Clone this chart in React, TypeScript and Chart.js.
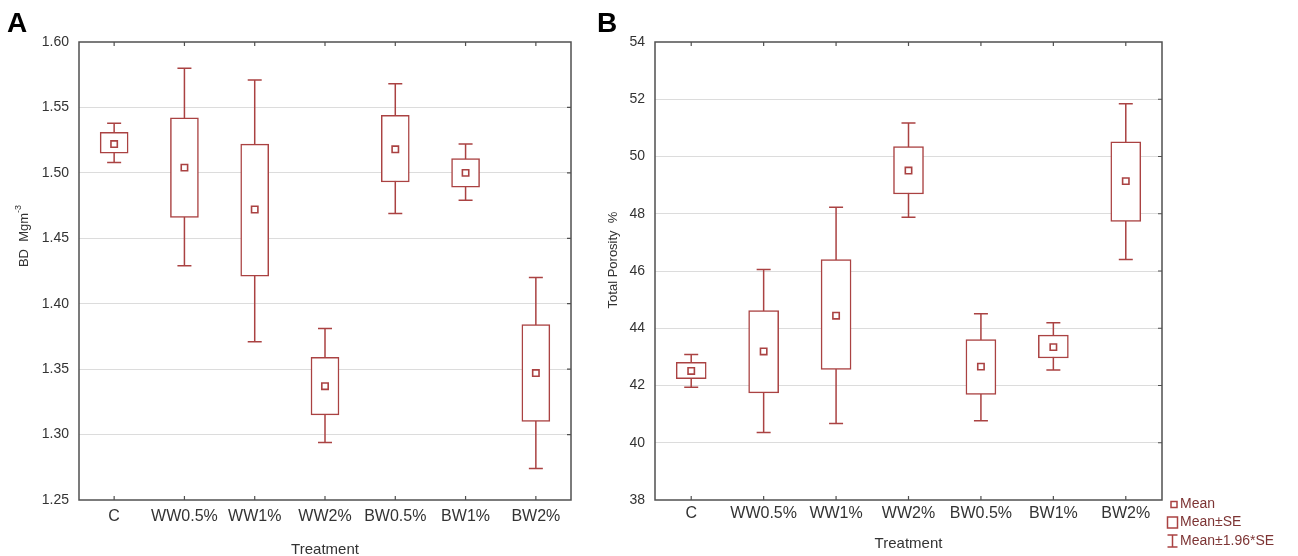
import React, { useEffect, useRef } from 'react';
import { Chart, registerables } from 'chart.js';

Chart.register(...registerables);

// ---------- data ----------
const categories = ['C', 'WW0.5%', 'WW1%', 'WW2%', 'BW0.5%', 'BW1%', 'BW2%'];

// Panel A: bulk density (BD, Mg m-3)
const bdMean = [1.522, 1.504, 1.472, 1.337, 1.518, 1.5, 1.347];
const bdSeLow = [1.515, 1.466, 1.421, 1.315, 1.493, 1.489, 1.31];
const bdSeHigh = [1.531, 1.542, 1.522, 1.359, 1.544, 1.511, 1.384];
const bdCiLow = [1.508, 1.429, 1.371, 1.294, 1.469, 1.479, 1.274];
const bdCiHigh = [1.538, 1.58, 1.571, 1.381, 1.568, 1.522, 1.42];

// Panel B: total porosity (%)
const tpMean = [42.51, 43.19, 44.44, 49.51, 42.66, 43.34, 49.14];
const tpSeLow = [42.24, 41.74, 42.56, 48.69, 41.69, 42.96, 47.73];
const tpSeHigh = [42.81, 44.62, 46.4, 50.35, 43.6, 43.76, 50.51];
const tpCiLow = [41.94, 40.36, 40.67, 47.88, 40.77, 42.54, 46.4];
const tpCiHigh = [43.08, 46.05, 48.23, 51.17, 44.51, 44.19, 51.84];

const legendLabels = ['Mean', 'Mean±SE', 'Mean±1.96*SE'];

const RED = '#aa4242';
const FRAME = '#505050';
const GRID = '#dcdcdc';
const TEXT = '#333333';
const FONT = '"Liberation Sans", Arial, sans-serif';

type PanelOpts = {
  letter: string;
  yTitle: string;
  ySup?: string;
  yTitleX: number;
  yTitleY: number;
  xTitleBaseline: number;
  ciLow: number[];
  ciHigh: number[];
  legend: boolean;
};

function makePlugin(o: PanelOpts) {
  return {
    id: 'panelDeco' + o.letter,
    beforeDatasetsDraw(chart: any) {
      const { ctx } = chart;
      const xs = chart.scales.x;
      const ys = chart.scales.y;
      ctx.save();
      ctx.strokeStyle = RED;
      ctx.lineWidth = 1.5;
      categories.forEach((_, i) => {
        const x = xs.getPixelForValue(i);
        const y1 = ys.getPixelForValue(o.ciLow[i]);
        const y2 = ys.getPixelForValue(o.ciHigh[i]);
        ctx.beginPath();
        ctx.moveTo(x, y1);
        ctx.lineTo(x, y2);
        ctx.moveTo(x - 7, y1);
        ctx.lineTo(x + 7, y1);
        ctx.moveTo(x - 7, y2);
        ctx.lineTo(x + 7, y2);
        ctx.stroke();
      });
      ctx.restore();
    },
    afterDraw(chart: any) {
      const { ctx, chartArea } = chart;
      const { left, right, top, bottom } = chartArea;
      const xs = chart.scales.x;
      const ys = chart.scales.y;
      ctx.save();
      // frame
      ctx.strokeStyle = FRAME;
      ctx.lineWidth = 1.5;
      ctx.strokeRect(left, top, right - left, bottom - top);
      ctx.lineWidth = 1.2;
      ctx.beginPath();
      categories.forEach((_, i) => {
        const x = xs.getPixelForValue(i);
        ctx.moveTo(x, top);
        ctx.lineTo(x, top + 4);
        ctx.moveTo(x, bottom);
        ctx.lineTo(x, bottom - 4);
      });
      ys.ticks.forEach((t: any) => {
        if (t.value === ys.min || t.value === ys.max) return;
        const y = ys.getPixelForValue(t.value);
        ctx.moveTo(right, y);
        ctx.lineTo(right - 4, y);
      });
      ctx.stroke();

      // panel letter
      ctx.fillStyle = '#000';
      ctx.font = 'bold 28px ' + FONT;
      ctx.textAlign = 'left';
      ctx.textBaseline = 'alphabetic';
      ctx.fillText(o.letter, 7, 32);

      // x title
      ctx.fillStyle = TEXT;
      ctx.font = '15px ' + FONT;
      ctx.textAlign = 'center';
      ctx.fillText('Treatment', (left + right) / 2, o.xTitleBaseline);

      // y title (rotated)
      ctx.save();
      ctx.translate(o.yTitleX, o.yTitleY);
      ctx.rotate(-Math.PI / 2);
      ctx.font = '13px ' + FONT;
      const mainW = ctx.measureText(o.yTitle).width;
      let supW = 0;
      if (o.ySup) {
        ctx.font = '9px ' + FONT;
        supW = ctx.measureText(o.ySup).width;
      }
      const total = mainW + supW;
      ctx.font = '13px ' + FONT;
      ctx.textAlign = 'left';
      ctx.textBaseline = 'middle';
      ctx.fillText(o.yTitle, -total / 2, 0);
      if (o.ySup) {
        ctx.font = '9px ' + FONT;
        ctx.fillText(o.ySup, -total / 2 + mainW, -5);
      }
      ctx.restore();

      // legend
      if (o.legend) {
        const ox = 1180 - 590;
        ctx.strokeStyle = RED;
        ctx.fillStyle = '#fff';
        ctx.lineWidth = 1.5;
        // mean marker
        ctx.fillRect(ox - 9, 501.5, 6, 6);
        ctx.strokeRect(ox - 9, 501.5, 6, 6);
        // box
        ctx.strokeRect(ox - 12.5, 517, 10, 11);
        // whisker
        ctx.beginPath();
        ctx.moveTo(ox - 7.5, 535);
        ctx.lineTo(ox - 7.5, 547);
        ctx.moveTo(ox - 12.5, 535);
        ctx.lineTo(ox - 2.5, 535);
        ctx.moveTo(ox - 12.5, 547);
        ctx.lineTo(ox - 2.5, 547);
        ctx.stroke();
        ctx.fillStyle = '#7d3434';
        ctx.font = '14px ' + FONT;
        ctx.textAlign = 'left';
        ctx.textBaseline = 'middle';
        ctx.fillText(legendLabels[0], ox, 504.5);
        ctx.fillText(legendLabels[1], ox, 522.5);
        ctx.fillText(legendLabels[2], ox, 541);
      }
      ctx.restore();
    },
  };
}

type PanelProps = {
  mean: number[];
  seLow: number[];
  seHigh: number[];
  ciLow: number[];
  ciHigh: number[];
  yMin: number;
  yMax: number;
  yStep: number;
  decimals: number;
  yAxisWidth: number;
  rightPad: number;
  barWidth: number;
  xTickPad: number;
  opts: PanelOpts;
};

function Panel(p: PanelProps) {
  const ref = useRef<HTMLCanvasElement | null>(null);
  useEffect(() => {
    if (!ref.current) return;
    const chart = new Chart(ref.current, {
      type: 'bar',
      data: {
        labels: categories,
        datasets: [
          {
            type: 'line',
            data: p.mean,
            showLine: false,
            pointStyle: 'rect',
            pointRadius: 4.5,
            pointBorderWidth: 1.6,
            pointBackgroundColor: '#ffffff',
            pointBorderColor: RED,
            order: 1,
          } as any,
          {
            type: 'bar',
            data: categories.map((_, i) => [p.seLow[i], p.seHigh[i]]),
            backgroundColor: '#ffffff',
            borderColor: RED,
            borderWidth: 1.5,
            borderSkipped: false,
            barThickness: p.barWidth,
            order: 2,
          } as any,
        ],
      },
      options: {
        animation: false,
        responsive: true,
        maintainAspectRatio: false,
        layout: { padding: { top: 42, right: p.rightPad, left: 0, bottom: 0 } },
        plugins: { legend: { display: false }, tooltip: { enabled: false } },
        scales: {
          x: {
            type: 'category',
            offset: true,
            grid: { display: false, drawTicks: false },
            border: { display: false },
            ticks: {
              color: TEXT,
              font: { family: FONT, size: 16 },
              padding: p.xTickPad,
              maxRotation: 0,
              autoSkip: false,
            },
            afterFit: (s: any) => {
              s.height = 56;
            },
          },
          y: {
            min: p.yMin,
            max: p.yMax,
            grid: {
              drawTicks: false,
              color: (c: any) =>
                c.tick && (Math.abs(c.tick.value - p.yMin) < 1e-9 || Math.abs(c.tick.value - p.yMax) < 1e-9)
                  ? 'rgba(0,0,0,0)'
                  : GRID,
              lineWidth: 1,
            },
            border: { display: false },
            ticks: {
              stepSize: p.yStep,
              color: TEXT,
              font: { family: FONT, size: 14 },
              padding: 10,
              callback: (v: any) => Number(v).toFixed(p.decimals),
            },
            afterFit: (s: any) => {
              s.width = p.yAxisWidth;
            },
          },
        },
      },
      plugins: [makePlugin(p.opts)],
    });
    return () => chart.destroy();
  }, []);
  return <canvas ref={ref} />;
}

export default function App() {
  return (
    <div style={{ position: 'fixed', left: 0, top: 0, width: 1298, height: 556, background: '#fff' }}>
      <div style={{ position: 'absolute', left: 0, top: 0, width: 590, height: 556 }}>
        <Panel
          mean={bdMean}
          seLow={bdSeLow}
          seHigh={bdSeHigh}
          ciLow={bdCiLow}
          ciHigh={bdCiHigh}
          yMin={1.25}
          yMax={1.6}
          yStep={0.05}
          decimals={2}
          yAxisWidth={79}
          rightPad={19}
          barWidth={28}
          xTickPad={7}
          opts={{
            letter: 'A',
            yTitle: 'BD  Mgm',
            ySup: '-3',
            yTitleX: 24,
            yTitleY: 236,
            xTitleBaseline: 554,
            ciLow: bdCiLow,
            ciHigh: bdCiHigh,
            legend: false,
          }}
        />
      </div>
      <div style={{ position: 'absolute', left: 590, top: 0, width: 708, height: 556 }}>
        <Panel
          mean={tpMean}
          seLow={tpSeLow}
          seHigh={tpSeHigh}
          ciLow={tpCiLow}
          ciHigh={tpCiHigh}
          yMin={38}
          yMax={54}
          yStep={2}
          decimals={0}
          yAxisWidth={65}
          rightPad={136}
          barWidth={30}
          xTickPad={4}
          opts={{
            letter: 'B',
            yTitle: 'Total Porosity  %',
            yTitleX: 23,
            yTitleY: 260,
            xTitleBaseline: 548,
            ciLow: tpCiLow,
            ciHigh: tpCiHigh,
            legend: true,
          }}
        />
      </div>
    </div>
  );
}
